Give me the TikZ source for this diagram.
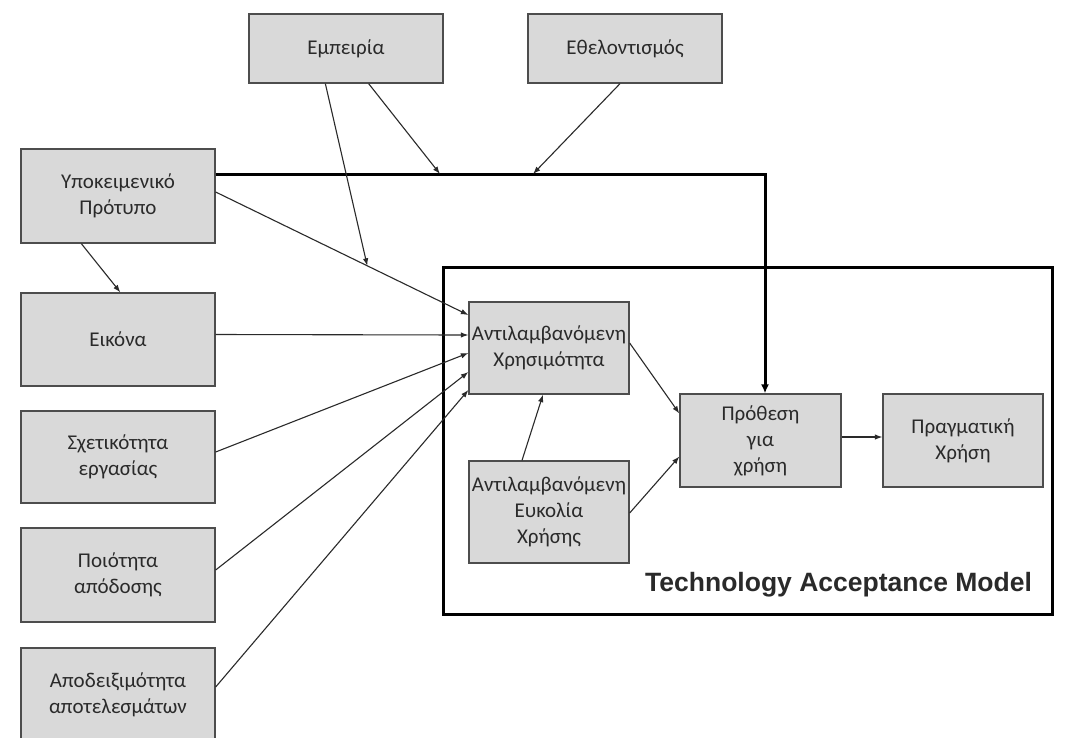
\documentclass[tikz,border=0pt]{standalone}
\usepackage{fontspec}
\setmainfont{Carlito}
\newfontfamily\labelfont{Liberation Sans}
\usetikzlibrary{arrows.meta,calc}
\definecolor{boxfill}{HTML}{D9D9D9}
\definecolor{boxline}{HTML}{4D4D4D}
\definecolor{ink}{HTML}{2A2A2A}
\begin{document}
\begin{tikzpicture}[x=1pt,y=-1pt,
  box/.style={draw=boxline, line width=1.3pt, fill=boxfill, text=ink, align=center,
    inner sep=0pt, font=\fontsize{21}{26}\selectfont},
  leftbox/.style={box, minimum width=194pt},
  tambox/.style={box, minimum width=160pt},
  arr/.style={draw=ink, line width=1.1pt, -{Latex[length=7.5pt,width=5.5pt]}},
  thickarr/.style={draw=black, line width=3pt, -{Latex[length=9pt,width=8pt]}},
  frame/.style={draw=black, line width=3pt, inner sep=0pt},
  tamlabel/.style={text=ink, font=\labelfont\bfseries\fontsize{26.5}{30}\selectfont}
]
\fill[white] (0,0) rectangle (1083,737);
\useasboundingbox (0,0) rectangle (1083,737);
\clip (0,0) rectangle (1083,737);

% TAM frame
\node[frame, minimum width=609pt, minimum height=347pt] (tam) at (747.5,440.5) {};
\node[tamlabel, anchor=east] (tamtext) at ($(tam.south east)+(-18,-31)$) {Technology Acceptance Model};

% left column
\node[leftbox, minimum height=94pt] (subj) at (118,196) {Υποκειμενικό\\Πρότυπο};
\node[leftbox, minimum height=93pt] (eik) at (118,339.5) {Εικόνα};
\node[leftbox, minimum height=92pt] (sxet) at (118,457) {Σχετικότητα\\εργασίας};
\node[leftbox, minimum height=94pt] (poi) at (118,575) {Ποιότητα\\απόδοσης};
\node[leftbox, minimum height=94pt] (apo) at (118,695) {Αποδειξιμότητα\\αποτελεσμάτων};

% top boxes
\node[leftbox, minimum height=69pt] (emp) at (346,48.5) {Εμπειρία};
\node[leftbox, minimum height=69pt] (ethel) at (625,48.5) {Εθελοντισμός};

% TAM boxes
\node[tambox, minimum height=92pt] (pu) at (549,348) {Αντιλαμβανόμενη\\Χρησιμότητα};
\node[tambox, minimum height=102pt] (peou) at (549,512) {Αντιλαμβανόμενη\\Ευκολία\\Χρήσης};
\node[tambox, minimum width=161pt, minimum height=93pt] (intent) at (760.5,440.5) {Πρόθεση\\για\\χρήση};
\node[tambox, minimum height=93pt] (actual) at (963,440.5) {Πραγματική\\Χρήση};

% helper points
\coordinate (s1) at ($(subj.east)+(0,-4)$);
\coordinate (p1) at ($(pu.west)+(0,-33)$);
\coordinate (j3) at ($(s1)!0.6!(p1)$);
\coordinate (j1) at (440,174);
\coordinate (j2) at (533,174);

% connectors
\draw[thickarr] ($(subj.east)+(0,-22)$) -| ($(intent.north)+(4.5,0)$);
\draw[arr] ($(subj.south west)+(61,0)$) -- ($(eik.north west)+(100,0)$);
\draw[arr] (s1) -- (p1);
\draw[arr] ($(eik.east)+(0,-5)$) -- ($(pu.west)+(0,-13)$);
\draw[arr] ($(sxet.east)+(0,-5)$) -- ($(pu.west)+(0,5)$);
\draw[arr] ($(poi.east)+(0,-5)$) -- ($(pu.west)+(0,24)$);
\draw[arr] ($(apo.east)+(0,-8)$) -- ($(pu.west)+(0,42)$);
\draw[arr] ($(emp.south east)+(-75,0)$) -- (j1);
\draw[arr] ($(ethel.south)+(-5,0)$) -- (j2);
\draw[arr] ($(emp.south west)+(77,0)$) -- (j3);
\draw[arr] ($(peou.north)+(-27,0)$) -- ($(pu.south)+(-6,0)$);
\draw[arr] ($(pu.east)+(0,-5)$) -- ($(intent.west)+(0,-27)$);
\draw[arr] ($(peou.east)+(0,1)$) -- ($(intent.west)+(0,16)$);
\draw[arr] ($(intent.east)+(0,-3.5)$) -- ($(actual.west)+(0,-3.5)$);
\end{tikzpicture}
\end{document}
